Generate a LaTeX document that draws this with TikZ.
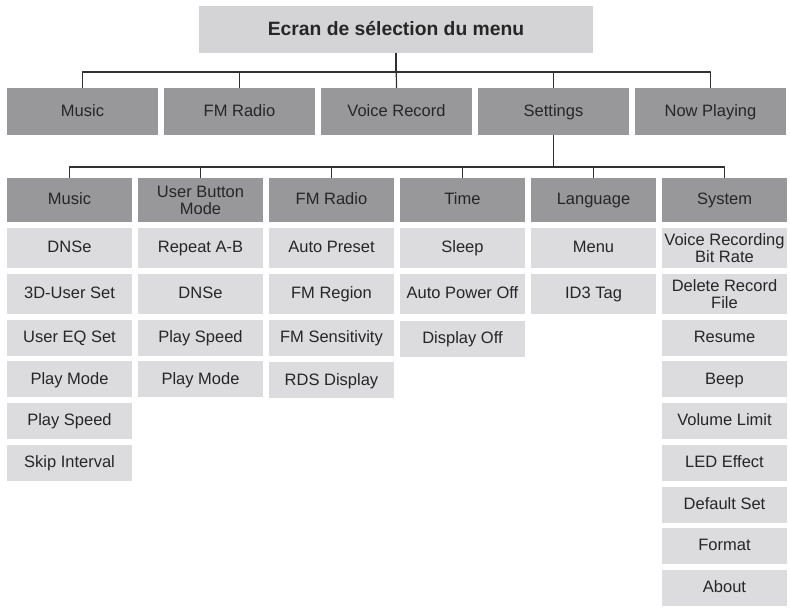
\documentclass[tikz,border=0pt]{standalone}
\usepackage{fontspec}
\setmainfont{Liberation Sans}

\definecolor{titlegrey}{HTML}{D4D4D6}
\definecolor{menugrey}{HTML}{98989A}
\definecolor{itemgrey}{HTML}{DCDCDE}
\definecolor{textgrey}{HTML}{262626}
\definecolor{linkgrey}{HTML}{303030}

\begin{document}
\begin{tikzpicture}[
  x=1pt,
  y=-1pt,
  line join=round,
  link/.style={draw=linkgrey,line width=1.2pt},
  box/.style={inner sep=0pt,align=center,text=textgrey,font=\fontsize{16.5}{16.5}\selectfont,
              text height=11.8pt,text depth=2.5pt},
  twoline/.style={text height=28.3pt,text depth=0pt},
  menubox/.style={box,fill=menugrey,minimum width=151pt,minimum height=47pt},
  headbox/.style={box,fill=menugrey,minimum width=125pt,minimum height=44pt},
  itembox/.style={box,fill=itemgrey,minimum width=125pt,minimum height=36pt},
  tallbox/.style={itembox,minimum height=40pt}
]
  % Match the original artwork frame.
  \useasboundingbox (0,0) rectangle (790,609);

  % Menu selection screen and its five entries.
  \node[box,fill=titlegrey,minimum width=394pt,minimum height=47pt,text height=13.8pt,
        font=\bfseries\fontsize{19.3}{19.3}\selectfont] (title) at (396,29.5) {Ecran de sélection du menu};
  \node[menubox] (music) at (82.5,111.5) {Music};
  \node[menubox] (fmradio) at (239.5,111.5) {FM Radio};
  \node[menubox] (voicerec) at (396.5,111.5) {Voice Record};
  \node[menubox] (settings) at (553.5,111.5) {Settings};
  \node[menubox] (nowplaying) at (710.5,111.5) {Now Playing};

  % Bus lines below the title and below Settings.
  \coordinate (topbus) at (0,72);
  \coordinate (setbus) at (0,167);
  \draw[link] (title.south) -- (title.south |- topbus) -| (music.north);
  \draw[link] (title.south) -- (title.south |- topbus) -| (fmradio.north);
  \draw[link] (title.south) -- (voicerec.north);
  \draw[link] (title.south) -- (title.south |- topbus) -| (settings.north);
  \draw[link] (title.south) -- (title.south |- topbus) -| (nowplaying.north);

  % Settings sub-menu headers.
  \node[headbox] (hmusic) at (69.5,200) {Music};
  \node[headbox,twoline] (hbutton) at (200.5,200) {User Button\\Mode};
  \node[headbox] (hradio) at (331.5,200) {FM Radio};
  \node[headbox] (htime) at (462.5,200) {Time};
  \node[headbox] (hlang) at (593.5,200) {Language};
  \node[headbox] (hsystem) at (724.5,200) {System};

  \draw[link] (settings.south) -- (settings.south |- setbus) -| (hmusic.north);
  \draw[link] (settings.south) -- (settings.south |- setbus) -| (hbutton.north);
  \draw[link] (settings.south) -- (settings.south |- setbus) -| (hradio.north);
  \draw[link] (settings.south) -- (settings.south |- setbus) -| (htime.north);
  \draw[link] (settings.south) -- (settings.south |- setbus) -| (hlang.north);
  \draw[link] (settings.south) -- (settings.south |- setbus) -| (hsystem.north);

  % Music column.
  \node[tallbox] (music1) at (69.5,248) {DNSe};
  \node[tallbox] (music2) at (69.5,294) {3D-User Set};
  \node[itembox] (music3) at (69.5,338) {User EQ Set};
  \node[itembox] (music4) at (69.5,379.5) {Play Mode};
  \node[itembox] (music5) at (69.5,421) {Play Speed};
  \node[itembox] (music6) at (69.5,463) {Skip Interval};

  % User Button Mode column.
  \node[tallbox] (button1) at (200.5,248) {Repeat A-B};
  \node[tallbox] (button2) at (200.5,294) {DNSe};
  \node[itembox] (button3) at (200.5,338) {Play Speed};
  \node[itembox] (button4) at (200.5,379.5) {Play Mode};

  % FM Radio column.
  \node[tallbox] (radio1) at (331.5,248) {Auto Preset};
  \node[tallbox] (radio2) at (331.5,294) {FM Region};
  \node[itembox] (radio3) at (331.5,338) {FM Sensitivity};
  \node[itembox] (radio4) at (331.5,380.5) {RDS Display};

  % Time column.
  \node[tallbox] (time1) at (462.5,248) {Sleep};
  \node[tallbox] (time2) at (462.5,294) {Auto Power Off};
  \node[itembox] (time3) at (462.5,339) {Display Off};

  % Language column.
  \node[tallbox] (lang1) at (593.5,248) {Menu};
  \node[tallbox] (lang2) at (593.5,294) {ID3 Tag};

  % System column.
  \node[tallbox,twoline] (system1) at (724.5,248) {Voice Recording\\Bit Rate};
  \node[tallbox,twoline] (system2) at (724.5,294) {Delete Record\\File};
  \node[itembox] (system3) at (724.5,338) {Resume};
  \node[itembox] (system4) at (724.5,379.5) {Beep};
  \node[itembox] (system5) at (724.5,421) {Volume Limit};
  \node[itembox] (system6) at (724.5,463) {LED Effect};
  \node[itembox] (system7) at (724.5,505) {Default Set};
  \node[itembox] (system8) at (724.5,546) {Format};
  \node[itembox] (system9) at (724.5,588) {About};
\end{tikzpicture}
\end{document}
